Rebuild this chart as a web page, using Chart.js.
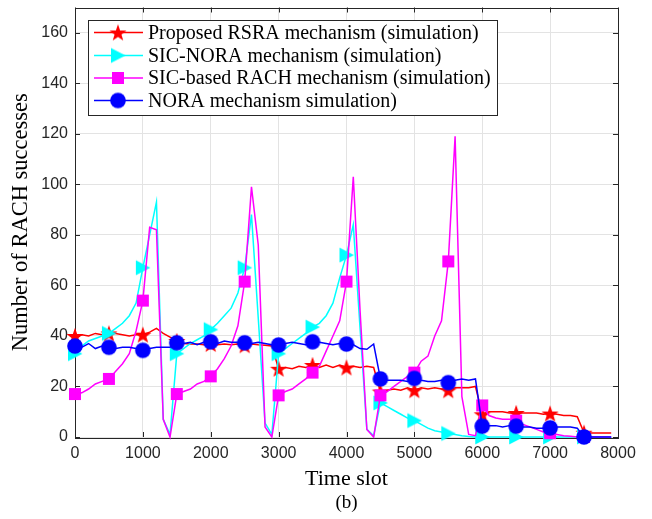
<!DOCTYPE html>
<html>
<head>
<meta charset="utf-8">
<script src="https://cdn.jsdelivr.net/npm/chart.js@4/dist/chart.umd.min.js"></script>
<style>
  html, body { margin: 0; padding: 0; background: #ffffff; }
  #wrap { width: 652px; height: 519px; }
</style>
</head>
<body>
<div id="wrap"><canvas id="rachChart" width="652" height="519"></canvas></div>
<script>
// Time slots (every 100 slots), markers every 500
var timeSlots = [];
for (var t = 0; t <= 7900; t += 100) timeSlots.push(t);

var xTicks = [0, 1000, 2000, 3000, 4000, 5000, 6000, 7000, 8000];
var yTicks = [0, 20, 40, 60, 80, 100, 120, 140, 160];

var seriesNames = [
    'Proposed RSRA mechanism (simulation)',
    'SIC-NORA mechanism (simulation)',
    'SIC-based RACH mechanism (simulation)',
    'NORA mechanism simulation)'
];

var rsra = [
    40, 40.5, 40, 41, 40.5, 41, 41, 40.5, 40, 40.5,
    40.5, 41.5, 43, 41, 39.5, 38, 37, 36.8, 36.8, 36.5,
    36.8, 36.5, 36.8, 36.5, 36.8, 36.3, 36.8, 36.5, 36.3, 36,
    27, 27.5, 27, 28, 27.5, 28.5, 27.5, 28.5, 27.5, 28.5,
    27.5, 28, 27.5, 28, 27.5, 18, 18.5, 19, 18.5, 19.5,
    18.5, 19.5, 19, 19.5, 19, 18.5, 19.5, 19.5, 19.5, 20,
    9, 10, 10, 10, 9.5, 9.5, 9.5, 9.5, 9.5, 9,
    9.3, 9, 8.5, 8.5, 8, 1.7, 1.6, 1.6, 1.6, 1.6
];

var sicNora = [
    33, 36, 38, 39, 40, 41, 43, 45, 48, 53,
    67, 80, 93, 7, 1, 33, 35, 37, 38.5, 40,
    42.5, 45, 48, 51, 57, 67, 88, 47, 5.5, 1,
    33, 35, 37, 39, 41, 43.5, 45, 48, 53, 63,
    72, 84, 43, 3, 0.5, 13.5, 12, 10.5, 9, 7.5,
    6.5, 5, 3.5, 2.5, 2, 1.4, 1, 0.5, 0.2, 0,
    0, 0, 0, 0, 0, 0, 0, 0, 0, 0,
    0, 0, 0, 0, 0, 0, 0, 0, 0, 0
];

var sicRach = [
    17, 17.5, 19, 21, 22, 23, 26, 29, 33, 42,
    54, 83, 82, 7, 0, 17, 18, 19, 21, 22,
    24, 27, 31, 36, 44, 61.5, 99, 76, 4, 0,
    16.5, 18, 19, 21, 23, 25.5, 28, 34, 40, 46,
    61.5, 103, 50, 3, 0, 16.5, 18, 20, 22, 24,
    25.5, 30, 32, 40, 46, 69.5, 119, 16, 1, 0.5,
    12.5, 8.5, 7.5, 7, 7, 6.5, 5, 4, 3, 2,
    1.5, 1, 0.5, 0.3, 0, 0, 0, 0, 0, 0
];

var nora = [
    36, 35.5, 37, 35, 36, 35.5, 35, 35.5, 35.5, 35,
    34.3, 35, 35.5, 35.5, 35.5, 37.3, 37, 37.5, 36.5, 37.5,
    37.7, 37, 38, 37.5, 37.5, 37.3, 37, 37.5, 37, 36.5,
    36.4, 37, 37.5, 37, 36.5, 37.7, 37.5, 37, 36.5, 37,
    36.8, 36.5, 35, 34.7, 36.8, 23, 22.5, 22.5, 22.5, 22,
    23.2, 22.5, 22, 22, 22.5, 21.5, 22.5, 23, 22.5, 23,
    4.3, 4.5, 4.5, 4, 4.5, 4.3, 4, 4, 3.5, 3.5,
    3.6, 4, 4, 4, 3.5, 0, 0, 0, 0, 0
];

// marker images
function makeStar(color) {
    var c = document.createElement('canvas');
    c.width = 20; c.height = 20;
    var g = c.getContext('2d');
    g.beginPath();
    for (var i = 0; i < 10; i++) {
        var r = i % 2 === 0 ? 9 : 3.6;
        var a = -Math.PI / 2 + i * Math.PI / 5;
        var px = 10 + r * Math.cos(a), py = 10.8 + r * Math.sin(a);
        if (i === 0) g.moveTo(px, py); else g.lineTo(px, py);
    }
    g.closePath();
    g.fillStyle = color;
    g.fill();
    return c;
}
function makeTriangle(color) {
    var c = document.createElement('canvas');
    c.width = 18; c.height = 18;
    var g = c.getContext('2d');
    g.beginPath();
    g.moveTo(2, 1.5); g.lineTo(2, 16.5); g.lineTo(16.5, 9);
    g.closePath();
    g.fillStyle = color;
    g.fill();
    return c;
}
function makeSquare(color) {
    var c = document.createElement('canvas');
    c.width = 14; c.height = 14;
    var g = c.getContext('2d');
    g.fillStyle = color;
    g.fillRect(1, 1, 12, 12);
    return c;
}
function makeCircle(color) {
    var c = document.createElement('canvas');
    c.width = 18; c.height = 18;
    var g = c.getContext('2d');
    g.beginPath();
    g.arc(9, 9, 7.8, 0, Math.PI * 2);
    g.fillStyle = color;
    g.fill();
    return c;
}

var colores = ['#ff0000', '#00ffff', '#ff00ff', '#0000ff'];
var marcadores = [makeStar(colores[0]), makeTriangle(colores[1]), makeSquare(colores[2]), makeCircle(colores[3])];
var valores = [rsra, sicNora, sicRach, nora];

var datasets = valores.map(function (vals, k) {
    return {
        label: seriesNames[k],
        data: timeSlots.map(function (t, i) { return { x: t, y: vals[i] }; }),
        borderColor: colores[k],
        backgroundColor: colores[k],
        borderWidth: 1.5,
        tension: 0,
        pointStyle: marcadores[k],
        pointRadius: function (c) { return c.dataIndex % 5 === 0 ? 6 : 0; },
        clip: false,
        order: 4 - k
    };
});

var frameColor = '#262626';

var boxPlugin = {
    id: 'boxPlugin',
    beforeDatasetsDraw: function (chart) {
        var ctx = chart.ctx, a = chart.chartArea;
        var sx = chart.scales.x, sy = chart.scales.y;
        ctx.save();
        ctx.strokeStyle = frameColor;
        ctx.lineWidth = 1;
        ctx.strokeRect(Math.round(a.left) + 0.5, Math.round(a.top) + 0.5,
            Math.round(a.right - a.left), Math.round(a.bottom - a.top));
        ctx.beginPath();
        xTicks.forEach(function (v) {
            var px = Math.round(sx.getPixelForValue(v)) + 0.5;
            ctx.moveTo(px, a.bottom); ctx.lineTo(px, a.bottom - 5);
            ctx.moveTo(px, a.top); ctx.lineTo(px, a.top + 5);
        });
        yTicks.forEach(function (v) {
            var py = Math.round(sy.getPixelForValue(v)) + 0.5;
            ctx.moveTo(a.left, py); ctx.lineTo(a.left + 5, py);
            ctx.moveTo(a.right, py); ctx.lineTo(a.right - 5, py);
        });
        ctx.stroke();
        ctx.restore();
    },
    afterDraw: function (chart) {
        var ctx = chart.ctx, a = chart.chartArea;
        var cx = (a.left + a.right) / 2;
        ctx.save();
        ctx.fillStyle = '#000000';
        ctx.textAlign = 'center';
        ctx.textBaseline = 'middle';
        ctx.font = '22px "Liberation Serif"';
        ctx.fillText('Time slot', cx, 479);
        ctx.font = '19px "Liberation Serif"';
        ctx.fillText('(b)', cx, 503);
        ctx.save();
        ctx.translate(21, (a.top + a.bottom) / 2);
        ctx.rotate(-Math.PI / 2);
        ctx.font = '22.5px "Liberation Serif"';
        ctx.fillText('Number of RACH successes', 0, 0);
        ctx.restore();

        // legend
        var lx = 88, ly = 20, lw = 409, lh = 95;
        ctx.fillStyle = '#ffffff';
        ctx.fillRect(lx, ly, lw, lh);
        ctx.strokeStyle = frameColor;
        ctx.lineWidth = 1;
        ctx.strokeRect(lx + 0.5, ly + 0.5, lw, lh);
        var rows = [32.5, 55.5, 78, 100.5];
        ctx.textAlign = 'left';
        ctx.font = '20px "Liberation Serif"';
        seriesNames.forEach(function (name, k) {
            var y = rows[k];
            ctx.strokeStyle = colores[k];
            ctx.lineWidth = 1.5;
            ctx.beginPath();
            ctx.moveTo(94, y); ctx.lineTo(143, y);
            ctx.stroke();
            var img = marcadores[k];
            ctx.drawImage(img, 118 - img.width / 2, y - img.height / 2);
            ctx.fillStyle = '#000000';
            ctx.fillText(name, 148, y + 1);
        });
        ctx.restore();
    }
};

function zeroPadding(s) {
    s.paddingTop = 0; s.paddingBottom = 0;
    s.paddingLeft = 0; s.paddingRight = 0;
}

var ctx = document.getElementById('rachChart').getContext('2d');

var myChart = new Chart(ctx, {
    type: 'line',
    data: { datasets: datasets },
    options: {
        responsive: false,
        animation: false,
        events: [],
        layout: { padding: { left: 0, right: 34, top: 7, bottom: 0 } },
        scales: {
            x: {
                type: 'linear',
                min: 0,
                max: 8000,
                afterBuildTicks: function (s) { s.ticks = xTicks.map(function (v) { return { value: v }; }); },
                afterFit: function (s) { s.height = 82; zeroPadding(s); },
                ticks: {
                    color: frameColor,
                    font: { family: '"Liberation Sans"', size: 16 },
                    padding: 7,
                    maxRotation: 0,
                    autoSkip: false,
                    callback: function (v) { return String(v); }
                },
                grid: { color: '#e3e3e3', drawTicks: false },
                border: { display: false }
            },
            y: {
                type: 'linear',
                min: 0,
                max: 170,
                afterBuildTicks: function (s) { s.ticks = yTicks.map(function (v) { return { value: v }; }); },
                afterFit: function (s) { s.width = 75; zeroPadding(s); },
                ticks: {
                    color: frameColor,
                    font: { family: '"Liberation Sans"', size: 16 },
                    padding: 7,
                    autoSkip: false,
                    callback: function (v) { return String(v); }
                },
                grid: { color: '#e3e3e3', drawTicks: false },
                border: { display: false }
            }
        },
        plugins: {
            legend: { display: false },
            tooltip: { enabled: false }
        }
    },
    plugins: [boxPlugin]
});
</script>
</body>
</html>
